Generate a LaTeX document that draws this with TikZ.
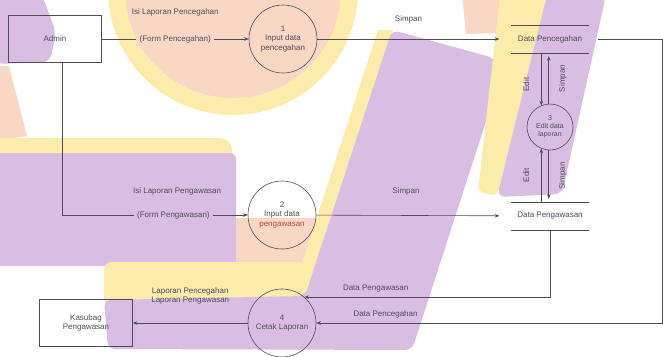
\documentclass[tikz,border=0pt]{standalone}
\usepackage{fontspec}
\setmainfont{Liberation Sans}
\usetikzlibrary{arrows.meta}

\definecolor{lilac}{RGB}{217,189,226}
\definecolor{peach}{RGB}{248,215,196}
\definecolor{lemon}{RGB}{252,236,172}
\definecolor{ink}{RGB}{80,75,90}
\definecolor{rust}{RGB}{190,75,60}

\begin{document}
\begin{tikzpicture}[x=1pt,y=-1pt,
    >={Stealth[length=4.5pt,width=3.6pt]},
    every node/.style={font=\fontsize{8}{9.5}\selectfont,text=ink},
    proc/.style={circle,draw=ink,line width=0.6pt,minimum size=68pt,inner sep=0pt,align=center},
    ent/.style={rectangle,draw=ink,line width=0.6pt,minimum width=93pt,minimum height=47pt,align=center},
    store/.style={minimum width=77pt,minimum height=28pt,inner sep=0pt},
    flow/.style={draw=ink,line width=0.6pt}]

    \useasboundingbox (0,0) rectangle (663,356);
    % backdrop
    \fill[white] (0,0) rectangle (663,356);
    \fill[lemon] (233,-10) circle (125pt);
    \fill[peach] (233,-10) circle (108pt);
    \fill[lilac,rounded corners=8pt] (-5,-5) -- (42,-5) -- (56,32) -- (50,62) -- (-5,64) -- cycle;
    \fill[peach] (0,66) -- (9,66) -- (27,136) -- (0,140) -- cycle;
    \fill[lemon,rounded corners=12pt] (-10,138) rectangle (232,262);
    \fill[lilac,rounded corners=6pt] (-10,153) rectangle (236,266);
    \fill[peach] (236,218) rectangle (326,300);
    \fill[lemon,rounded corners=8pt] (104,262) rectangle (320,305);
    \fill[lemon] (378,30) -- (393,30) -- (304,297) -- (290,300) -- cycle;
    \fill[lilac,rounded corners=7pt] (392,30) -- (494,58) -- (502,72) -- (412,350) -- (108,349) -- (104,300) -- (305,296) -- cycle;
    \fill[peach] (462,-5) -- (502,-5) -- (498,33) -- (466,34) -- cycle;
    \fill[lemon,rounded corners=6pt] (500,-5) -- (548,-5) -- (497,196) -- (478,192) -- cycle;
    \fill[lilac,rounded corners=8pt] (547,-5) -- (606,-5) -- (562,194) -- (497,197) -- cycle;

    \path
    (55,39) node[ent](admin) {Admin}
    (86,323) node[ent](kasubag) {Kasubag\\Pengawasan}
    (283,39) node[proc](p1) {1\\Input data\\pencegahan}
    (282,215) node[proc](p2) {2\\Input data\\\textcolor{rust}{pengawasan}}
    (550,127) node[proc,minimum size=46pt,font=\fontsize{7}{8}\selectfont](p3) {3\\Edit data\\laporan}
    (282,323) node[proc](p4) {4\\Cetak Laporan}
    (550,39) node[store](d1) {Data Pencegahan}
    (550,216) node[store](d2) {Data Pengawasan}
    (662.5,39) coordinate (rim);

    \draw[flow] (d1.north west) -- (d1.north east) (d1.south west) -- (d1.south east);
    \draw[flow] (d2.north west) -- (d2.north east) (d2.south west) -- (d2.south east);

    \draw[flow,->] (admin) -- node[fill=peach]{(Form Pencegahan)} node[above=19pt]{Isi Laporan Pencegahan} (p1);
    \draw[flow,->] ([xshift=7pt]admin.south) |- node[pos=0.8,fill=lilac]{(Form Pengawasan)} node[pos=0.81,above=16pt]{Isi Laporan Pengawasan} (p2);

    \draw[flow,->,shorten >=12pt] (p1) -- node[pos=0.47,above=12pt]{Simpan} (d1);
    \draw[flow,->,shorten >=12pt] (p2) -- node[pos=0.46,above=17pt]{Simpan} (d2);

    \draw[flow,->] (p3.112 |- d1.south) -- node[pos=0.6,xshift=-15pt,rotate=90]{Edit} (p3.112);
    \draw[flow,->,shorten >=3pt] (p3.93) -- node[xshift=14pt,rotate=90]{Simpan} (p3.93 |- d1.south);
    \draw[flow,->] (p3.248 |- d2.north) -- node[xshift=-15pt,rotate=90]{Edit} (p3.248);
    \draw[flow,->,shorten >=3pt] (p3.267) -- node[xshift=14pt,rotate=90]{Simpan} (p3.267 |- d2.north);

    \draw[flow,->] ([xshift=9pt]d1.east) -- (rim) |- node[pos=0.9,above=1pt]{Data Pencegahan} (p4.east);
    \draw[flow,->] (d2.south) |- node[pos=0.855,above=1pt]{Data Pengawasan} (p4.49);
    \draw[flow,->] (p4) -- node[above=15pt,align=center]{Laporan Pencegahan\\Laporan Pengawasan} (kasubag);
\end{tikzpicture}
\end{document}
